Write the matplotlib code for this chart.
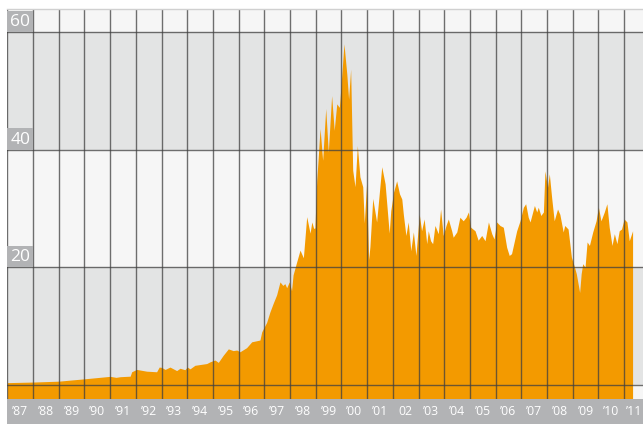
import numpy as np
import matplotlib
matplotlib.use("Agg")
from matplotlib import pyplot as plt
from matplotlib.patches import Rectangle

# values (decimal year, price)
years = [1987.0, 1988.0, 1989.0, 1990.0, 1991.0, 1991.23, 1991.39, 1991.78, 1991.84,
         1992.03, 1992.16, 1992.42, 1992.81, 1992.91, 1993.0, 1993.14, 1993.33, 1993.59,
         1993.72, 1993.91, 1994.0, 1994.11, 1994.3, 1994.76, 1994.89, 1995.08, 1995.21,
         1995.4, 1995.6, 1995.79, 1995.93, 1996.05, 1996.31, 1996.51, 1996.83, 1996.9,
         1997.09, 1997.22, 1997.35, 1997.48, 1997.61, 1997.72, 1997.8, 1997.87, 1997.97,
         1998.06, 1998.12, 1998.26, 1998.39, 1998.52, 1998.65, 1998.78, 1998.85, 1998.92,
         1998.97, 1999.04, 1999.17, 1999.27, 1999.39, 1999.49, 1999.62, 1999.72, 1999.82,
         1999.92, 1999.97, 2000.1, 2000.21, 2000.28, 2000.36, 2000.44, 2000.53, 2000.62,
         2000.72, 2000.83, 2000.89, 2000.98, 2001.06, 2001.11, 2001.22, 2001.37, 2001.57,
         2001.7, 2001.86, 2001.92, 2002.03, 2002.15, 2002.26, 2002.35, 2002.41, 2002.51,
         2002.6, 2002.7, 2002.8, 2002.9, 2003.03, 2003.12, 2003.22, 2003.32, 2003.38,
         2003.47, 2003.55, 2003.64, 2003.77, 2003.86, 2003.96, 2004.07, 2004.16, 2004.29,
         2004.35, 2004.49, 2004.61, 2004.74, 2004.85, 2004.94, 2005.03, 2005.2, 2005.32,
         2005.46, 2005.59, 2005.72, 2005.85, 2005.94, 2006.04, 2006.17, 2006.3, 2006.43,
         2006.53, 2006.62, 2006.82, 2006.95, 2007.08, 2007.17, 2007.27, 2007.34, 2007.51,
         2007.6, 2007.66, 2007.76, 2007.86, 2007.92, 2008.02, 2008.09, 2008.18, 2008.28,
         2008.41, 2008.5, 2008.63, 2008.69, 2008.82, 2008.95, 2009.05, 2009.14, 2009.27,
         2009.33, 2009.39, 2009.48, 2009.56, 2009.65, 2009.78, 2009.91, 2010.0, 2010.1,
         2010.23, 2010.33, 2010.42, 2010.53, 2010.62, 2010.72, 2010.81, 2010.9, 2011.0,
         2011.11, 2011.2, 2011.33]
prices = [0.35, 0.45, 0.6, 1.0, 1.42, 1.25, 1.36, 1.45, 2.2,
          2.6, 2.5, 2.3, 2.2, 3.0, 2.95, 2.6, 3.0, 2.4,
          2.8, 2.55, 3.0, 2.7, 3.3, 3.6, 3.9, 4.2, 3.8,
          5.0, 6.1, 5.8, 5.9, 5.6, 6.3, 7.3, 7.6, 9.0,
          10.6, 12.4, 13.9, 15.3, 17.5, 16.9, 17.2, 16.5, 17.5,
          16.0, 18.7, 20.9, 22.9, 21.6, 28.6, 25.8, 27.7, 26.6,
          26.7, 34.8, 43.6, 38.2, 47.0, 39.6, 49.2, 43.3, 47.8,
          47.2, 50.0, 58.0, 52.9, 48.6, 53.7, 36.5, 33.7, 40.7,
          35.4, 33.7, 27.5, 34.2, 21.3, 23.5, 31.7, 27.7, 37.1,
          34.2, 25.8, 29.6, 32.8, 34.7, 32.5, 31.6, 29.0, 25.4,
          27.7, 22.8, 26.0, 22.0, 29.0, 26.2, 28.2, 24.0, 26.2,
          24.5, 24.0, 27.1, 25.7, 29.9, 25.4, 27.1, 28.2, 26.2,
          25.1, 26.0, 28.5, 27.9, 28.5, 29.4, 26.8, 26.2, 24.6,
          25.4, 24.5, 27.7, 25.7, 24.8, 27.7, 27.1, 26.8, 23.4,
          22.0, 22.3, 26.2, 27.9, 30.2, 30.8, 28.5, 27.7, 30.5,
          29.4, 30.2, 28.8, 29.4, 36.4, 33.6, 35.9, 31.9, 27.9,
          29.9, 29.0, 26.0, 27.1, 26.5, 21.7, 20.3, 18.9, 15.7,
          18.9, 20.6, 20.0, 24.3, 23.7, 26.0, 27.9, 30.2, 27.9,
          29.4, 30.8, 26.8, 23.7, 25.7, 24.0, 26.2, 26.5, 28.2,
          27.7, 24.5, 26.2]

year_labels = ["\u201987", "\u201988", "\u201989", "\u201990", "\u201991", "\u201992",
               "\u201993", "\u201994", "\u201995", "\u201996", "\u201997", "\u201998",
               "\u201999", "\u201900", "\u201901", "02", "\u201903", "\u201904",
               "\u201905", "\u201906", "\u201907", "\u201908", "\u201909", "\u201910",
               "\u201911"]
y_ticks = [60, 40, 20]

ORANGE = "#f39a00"
LIGHT = "#f6f6f6"
DARK = "#e3e4e4"
BOXGRAY = "#b2b3b5"
LINE = "#404040"

W, H = 643, 424
fig = plt.figure(figsize=(W / 100, H / 100), dpi=100)
fig.patch.set_facecolor("white")

# pixel geometry of the plot area
px_left, px_right = 7.3, 643.0
px_top, px_bottom = 9.5, 398.7
x0 = 1987.0
px_per_year = 25.7
px_per_unit = 117.5 / 20.0
xmax = x0 + (px_right - px_left) / px_per_year
ymin = -(px_bottom - 384.7) / px_per_unit
ymax = (384.7 - px_top) / px_per_unit

ax = fig.add_axes([px_left / W, (H - px_bottom) / H,
                   (px_right - px_left) / W, (px_bottom - px_top) / H])
ax.set_xlim(x0, xmax)
ax.set_ylim(ymin, ymax)
ax.axis("off")

# horizontal bands
edges = [ymin, 0, 20, 40, 60, ymax]
for i in range(len(edges) - 1):
    ax.axhspan(edges[i], edges[i + 1], color=LIGHT if i % 2 == 0 else DARK, lw=0, zorder=0)

ax.fill_between(years, prices, ymin - 5, color=ORANGE, lw=0, zorder=1)

# grid on top
for k in range(len(year_labels)):
    ax.axvline(x0 + k, color=LINE, lw=1.0, alpha=0.75, zorder=2)
for v in [0, 20, 40, 60]:
    ax.axhline(v, color=LINE, lw=1.0, alpha=0.75, zorder=2)
ax.axhline(ymax, color="#d0d0d0", lw=1.0, zorder=2, clip_on=False)

# y labels in grey boxes
box_h = 21.5 / px_per_unit
for v in y_ticks:
    ax.add_patch(Rectangle((x0, v), 1.0, box_h, color=BOXGRAY, lw=0, zorder=3))
    ax.text(x0 + 0.5, v + box_h / 2 - 0.1, str(v), color="white", fontsize=12.5,
            family=["Open Sans", "DejaVu Sans"], ha="center", va="center", zorder=4)

# x label band
axb = fig.add_axes([px_left / W, 0, (px_right - px_left) / W, (H - px_bottom) / H])
axb.set_xlim(x0, xmax)
axb.set_ylim(0, 1)
axb.axis("off")
axb.add_patch(Rectangle((x0, 0), xmax - x0, 1, color=BOXGRAY, lw=0))
last = len(year_labels) - 1
for k, lab in enumerate(year_labels):
    if k == last:
        # last label sits against the right edge
        axb.text(xmax - 0.03, 0.5, lab, color="white", fontsize=8.8,
                 family=["Open Sans", "DejaVu Sans"], ha="right", va="center")
    else:
        axb.text(x0 + k + 0.5, 0.5, lab, color="white", fontsize=8.8,
                 family=["Open Sans", "DejaVu Sans"], ha="center", va="center")

fig.savefig("out.png", dpi=100)
